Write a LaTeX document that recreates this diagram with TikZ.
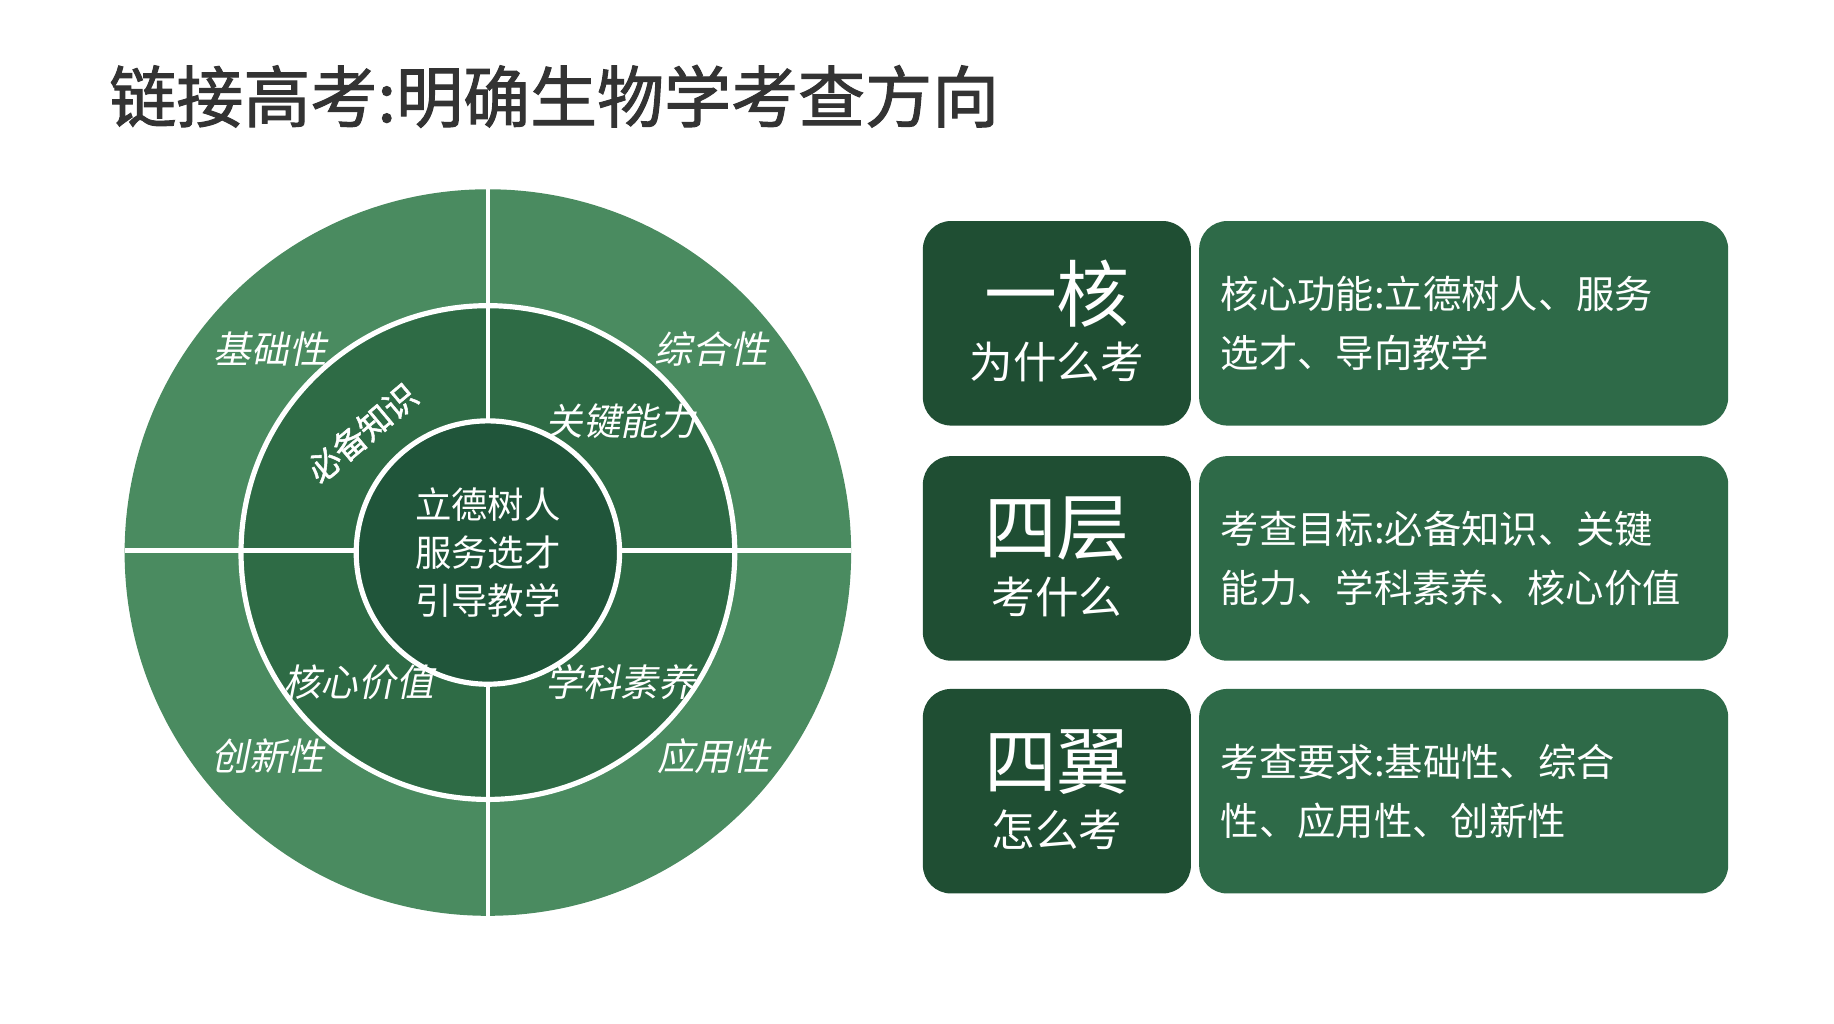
\documentclass[tikz,border=0pt]{standalone}
\usepackage{fontspec}
\newfontfamily\cjk{Noto Sans CJK SC}
\newfontfamily\cjkit{Noto Sans CJK SC}[FakeSlant=0.2]
\newfontfamily\cjkb{Noto Sans CJK SC}[FakeBold=1.5]
\definecolor{gOut}{HTML}{4A8B60}
\definecolor{gMid}{HTML}{2E6B45}
\definecolor{gIn}{HTML}{20553A}
\definecolor{bxL}{HTML}{1F4E33}
\definecolor{bxR}{HTML}{2E6A48}
\tikzset{
  lab/.style={text=white,font=\cjkit\fontsize{16}{18}\selectfont,inner sep=0},
  hbox/.style={rounded corners=12pt,fill=bxL},
  tbox/.style={rounded corners=12pt,fill=bxR},
  rtxt/.style={text=white,font=\cjk\fontsize{16.3}{25}\selectfont,align=left,anchor=west,inner sep=0}
}
\begin{document}
\begin{tikzpicture}[x=0.5pt,y=-0.5pt]
\useasboundingbox (0,0) rectangle (1560,871);
\fill[white] (0,0) rectangle (1560,871);
\node[font=\cjkb\fontsize{28.5}{30}\selectfont,text=black!80,anchor=west] (title) at (86,82) {链接高考:明确生物学考查方向};
% wheel
\coordinate (c) at (415,470);
\fill[gOut] (c) circle (309);
\fill[gMid] (c) circle (210);
\draw[white,line width=2.2pt] (c) circle (210);
\fill[gIn] (c) circle (112);
\draw[white,line width=2.2pt] (c) circle (112);
\draw[white,line width=2pt] (415,161) -- (415,358) (415,582) -- (415,779)
  (106,468) -- (303,468) (527,468) -- (724,468);
\node[lab] (a1) at (230,297) {基础性};
\node[lab] (a2) at (605,297) {综合性};
\node[lab] (a3) at (228,643) {创新性};
\node[lab] (a4) at (607,643) {应用性};
\node[lab] (b1) at (528,358) {关键能力};
\node[lab] (b2) at (305,580) {核心价值};
\node[lab] (b3) at (528,580) {学科素养};
\node[lab,font=\cjkb\fontsize{14}{16}\selectfont,rotate=40] (b4) at (308,368) {必备知识};
\node[text=white,font=\cjk\fontsize{15.5}{20.5}\selectfont,align=center] (ctr) at (415,470) {立德树人\\服务选才\\引导教学};
% boxes
\foreach \y/\big/\small/\txt [count=\i] in {188/一核/为什么考/{核心功能:立德树人、服务\\选才、导向教学},
  388/四层/考什么/{考查目标:必备知识、关键\\能力、学科素养、核心价值},
  586/四翼/怎么考/{考查要求:基础性、综合\\性、应用性、创新性}}{
  \fill[hbox] (785,\y) rectangle (1013,\y+174);
  \fill[tbox] (1020,\y) rectangle (1470,\y+174);
  \node[text=white,font=\cjk\fontsize{31}{32}\selectfont] (k\i) at (899,\y+62) {\big};
  \node[text=white,font=\cjk\fontsize{18.5}{20}\selectfont] (s\i) at (899,\y+120) {\small};
  \node[rtxt] (t\i) at (1038,\y+87) {\txt};
}
\end{tikzpicture}
\end{document}
